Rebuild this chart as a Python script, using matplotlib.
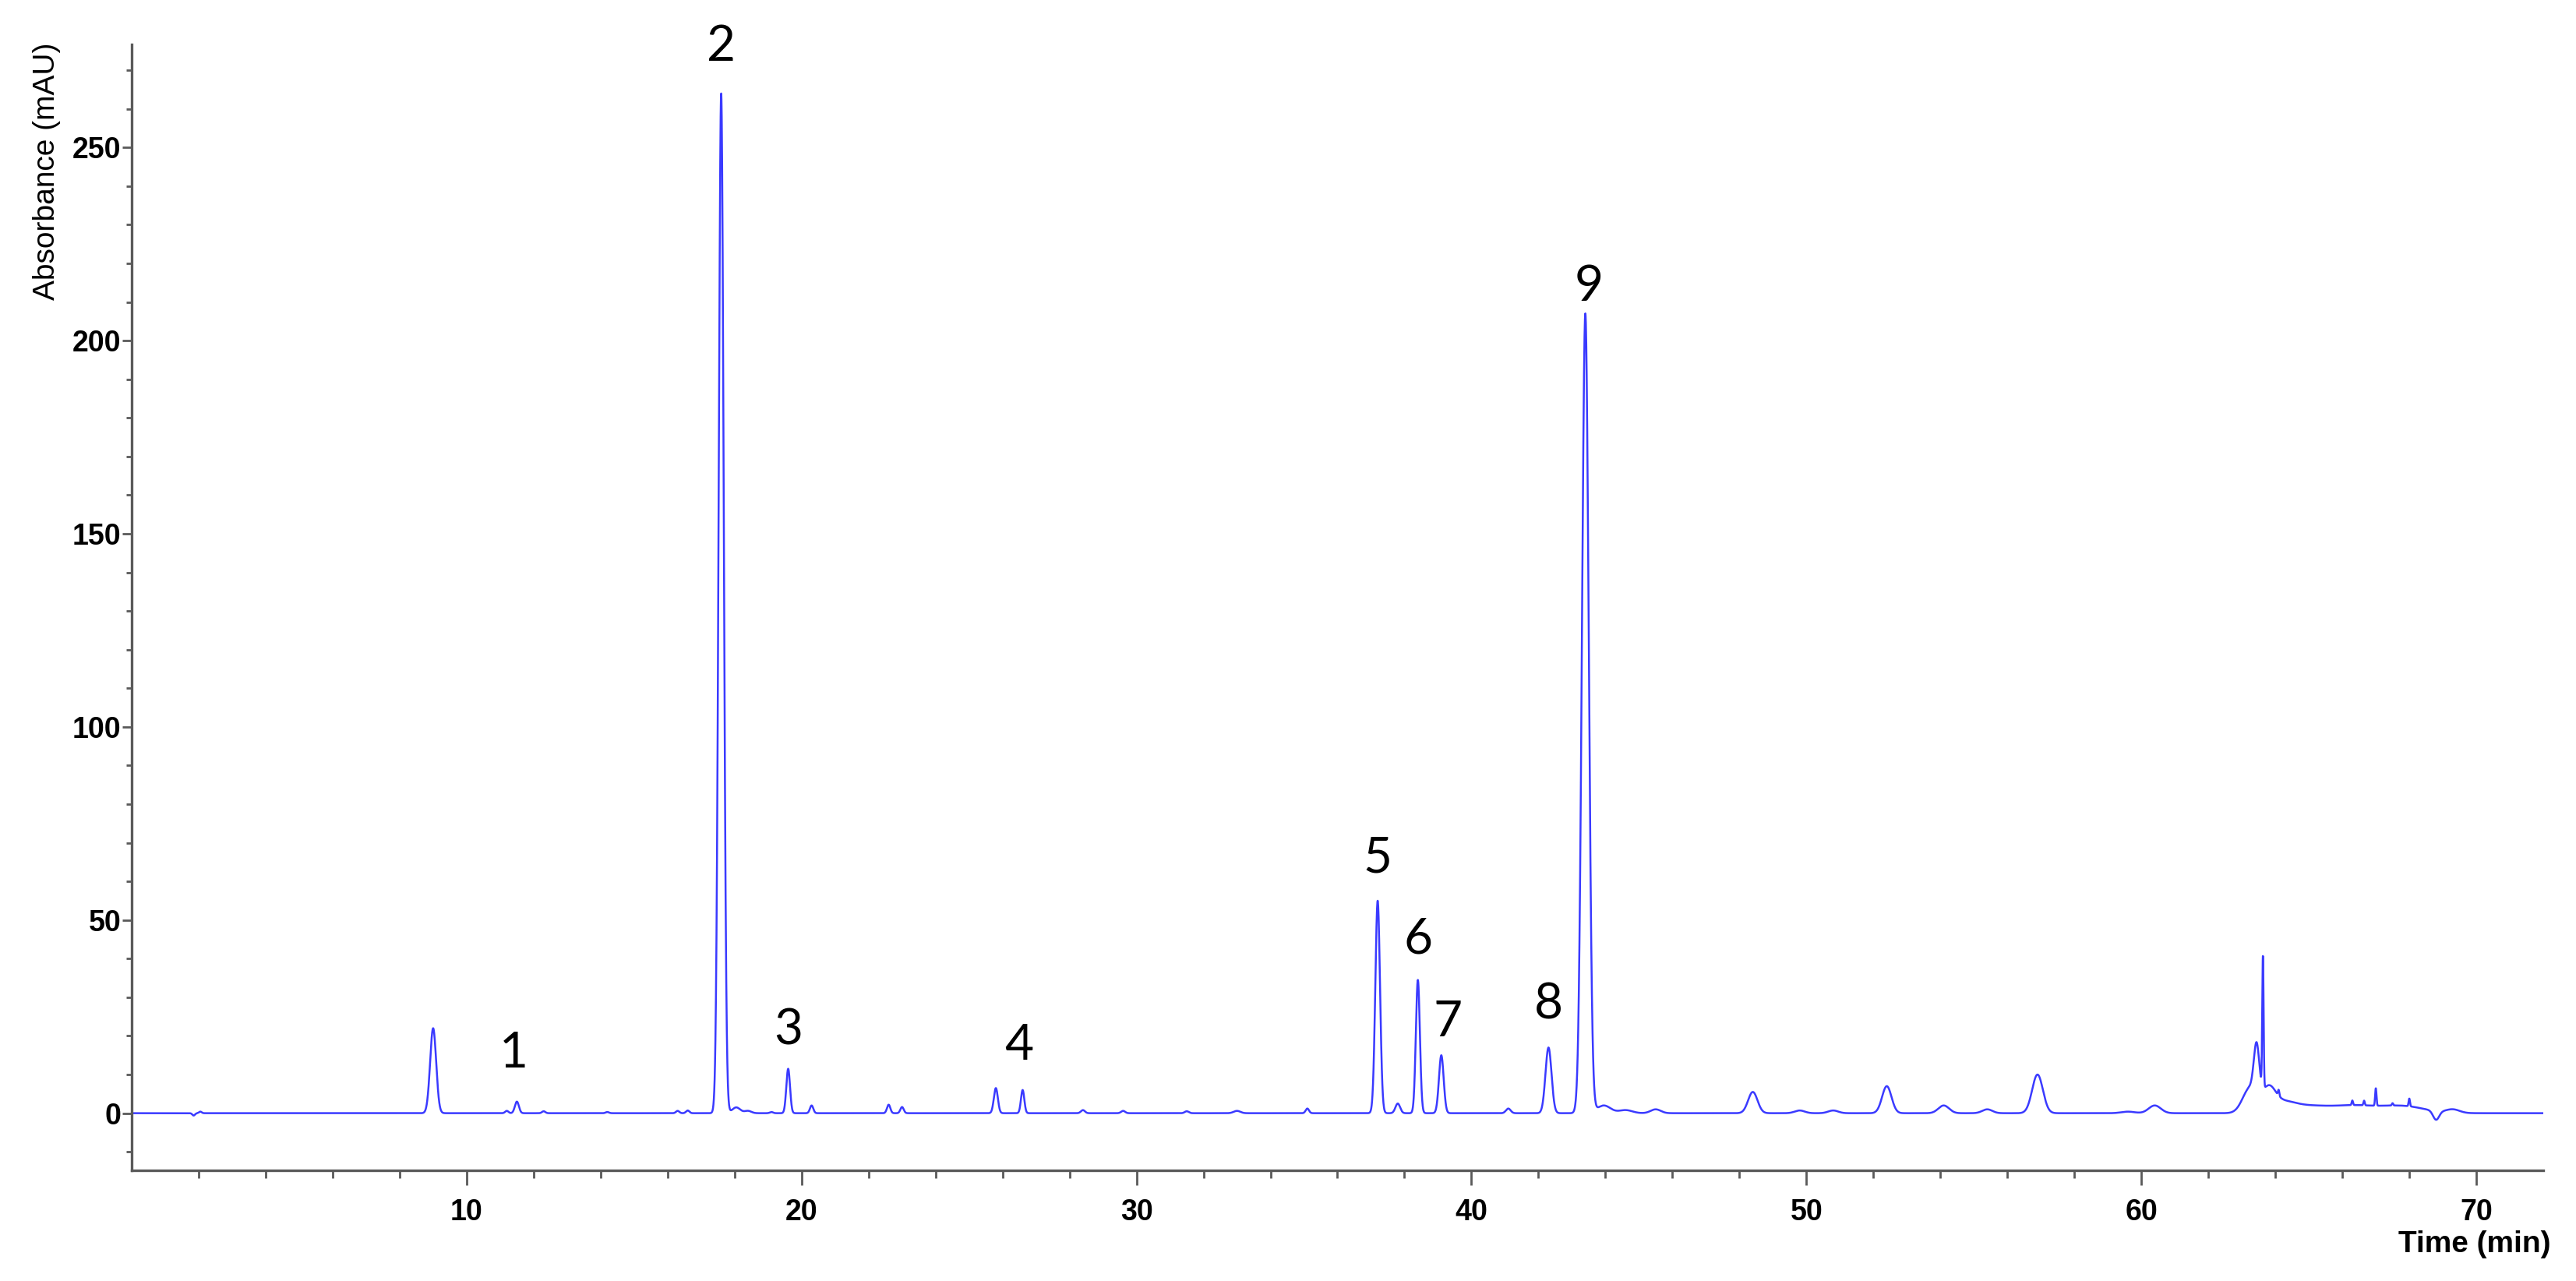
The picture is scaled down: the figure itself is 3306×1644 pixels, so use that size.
import numpy as np
import matplotlib.pyplot as plt
from matplotlib.ticker import MultipleLocator, FixedLocator

# Peak table: retention time (min), height (mAU), sigma (min)
peak_times = [1.85, 2.05, 9.0, 11.2, 11.5, 12.3, 14.2, 16.3, 16.6, 17.6, 18.05, 18.4,
              19.1, 19.6, 20.3, 22.6, 23.0, 25.8, 26.6, 28.4, 29.6, 31.5, 33.0, 35.1,
              37.2, 37.8, 38.4, 39.1, 41.1, 42.3, 43.4, 43.95, 44.6, 45.5, 48.4,
              49.8, 50.8, 52.4, 54.1, 55.4, 56.9, 59.6, 60.4,
              63.25, 63.44, 63.63, 63.8, 64.1, 64.2, 64.9, 66.35, 67.8,
              66.3, 66.65, 67.0, 67.5, 68.0, 68.8, 69.3]
peak_heights = [-0.6, 0.4, 22.0, 0.6, 3.0, 0.5, 0.3, 0.6, 0.7, 264.0, 1.5, 0.6,
                0.3, 11.5, 2.0, 2.2, 1.6, 6.5, 6.0, 0.8, 0.6, 0.5, 0.6, 1.2,
                55.0, 2.5, 34.5, 15.0, 1.2, 17.0, 207.0, 2.0, 0.8, 1.0, 5.5,
                0.7, 0.7, 7.0, 2.0, 1.0, 10.0, 0.4, 2.0,
                6.5, 12.5, 34.0, 5.5, 1.5, 2.0, 1.8, 1.8, 1.8,
                1.2, 1.2, 4.5, 0.6, 2.0, -2.3, 0.9]
peak_widths = [0.04, 0.04, 0.09, 0.05, 0.06, 0.05, 0.05, 0.05, 0.05, 0.075, 0.12, 0.1,
               0.05, 0.055, 0.05, 0.05, 0.05, 0.06, 0.05, 0.06, 0.06, 0.06, 0.1, 0.05,
               0.07, 0.07, 0.06, 0.07, 0.07, 0.09, 0.1, 0.2, 0.2, 0.15, 0.14,
               0.15, 0.15, 0.14, 0.16, 0.15, 0.16, 0.2, 0.18,
               0.22, 0.08, 0.02, 0.2, 0.02, 0.35, 0.65, 0.65, 0.65,
               0.02, 0.02, 0.02, 0.02, 0.02, 0.09, 0.2]

# Peak numbering labels (label, time, y position in mAU)
label_text = ['1', '2', '3', '4', '5', '6', '7', '8', '9']
label_x = [11.4, 17.6, 19.6, 26.5, 37.2, 38.4, 39.3, 42.3, 43.5]
label_y = [15.5, 276.0, 21.5, 17.5, 66.0, 45.0, 23.5, 28.0, 214.0]

t = np.arange(0, 72.0, 0.004)
signal = np.zeros_like(t)
for tr, h, s in zip(peak_times, peak_heights, peak_widths):
    signal += h * np.exp(-0.5 * ((t - tr) / s) ** 2)

fig = plt.figure(figsize=(33.06, 16.44), dpi=100)
ax = fig.add_axes([169 / 3306, 1 - 1502 / 1644, (3264 - 169) / 3306, (1502 - 57) / 1644])

ax.plot(t, signal, color='#3a3aff', lw=1.8)

ax.set_xlim(0, 72)
ax.set_ylim(-14.8, 276.7)

axis_grey = '#5a5a5a'
for side in ['top', 'right']:
    ax.spines[side].set_visible(False)
for side in ['left', 'bottom']:
    ax.spines[side].set_color(axis_grey)
    ax.spines[side].set_linewidth(2.4)

ax.xaxis.set_major_locator(FixedLocator([10, 20, 30, 40, 50, 60, 70]))
ax.xaxis.set_minor_locator(FixedLocator([v for v in range(2, 72, 2) if v % 10]))
ax.yaxis.set_major_locator(MultipleLocator(50))
ax.yaxis.set_minor_locator(MultipleLocator(10))

ax.tick_params(axis='x', which='major', length=14, width=2, color=axis_grey, pad=12)
ax.tick_params(axis='x', which='minor', length=7, width=2, color=axis_grey)
ax.tick_params(axis='y', which='major', length=9, width=2, color=axis_grey, pad=1)
ax.tick_params(axis='y', which='minor', length=5, width=2, color=axis_grey)

tick_font = 'Liberation Sans'
for lab in ax.get_xticklabels() + ax.get_yticklabels():
    lab.set_fontfamily(tick_font)
    lab.set_fontweight('bold')
    lab.set_fontsize(27)

fig.text(3273 / 3306, 1 - 1597 / 1644, 'Time (min)', ha='right', va='center',
         fontsize=28, fontweight='bold', family=tick_font)
fig.text(60 / 3306, 1 - 55 / 1644, 'Absorbance (mAU)', ha='center', va='top',
         rotation=90, fontsize=28, family='Liberation Sans')

for txt, x, y in zip(label_text, label_x, label_y):
    ax.text(x, y, txt, ha='center', va='center', fontsize=46, family='Lato')

fig.savefig('out.png', dpi=100)
